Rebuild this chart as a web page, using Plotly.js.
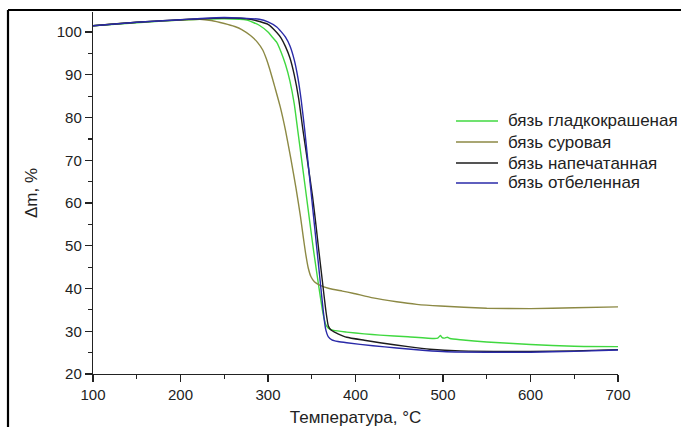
<!DOCTYPE html>
<html>
<head>
<meta charset="utf-8">
<script src="https://cdn.plot.ly/plotly-3.0.1.min.js"></script>
<style>html,body{margin:0;padding:0;background:#fff;}#chart{width:681px;height:427px;}</style>
</head>
<body>
<div id="chart"></div>
<script>
// Series names
const seriesNames = ["бязь гладкокрашеная", "бязь суровая", "бязь напечатанная", "бязь отбеленная"];
const seriesColors = ["#40d840", "#8c8944", "#1c1c1c", "#2a2aa8"];

// бязь гладкокрашеная (green)
const greenT = [100,150,200,250,276,290,300,305,310,315,320,325,330,334,338,343,348,352,356,360,363,366,369,375,390,410,428,460,490,494,497,499,502,505,508,520,550,600,650,700];
const greenM = [101.5,102.2,102.8,103.1,102.8,101.6,100.0,98.8,97.6,95.3,92.4,88.6,83.2,77,70.8,63,55.2,49,43.3,37.8,34,31.6,30.7,30.2,29.8,29.4,29.1,28.7,28.3,28.4,29.0,28.5,28.4,28.6,28.3,28.0,27.5,26.9,26.5,26.4];

// бязь суровая (olive)
const oliveT = [100,150,200,222,235,250,262,270,280,288,294,298,302,308,314,320,326,332,337,340,343,346,349,353,359,370,385,397,420,447,470,497,550,600,650,700];
const oliveM = [101.5,102.3,102.8,103.0,102.7,102.0,101.3,100.6,99.2,97.6,95.8,93.8,91.3,87,82.5,77,70.5,63.5,57,52.5,48.2,44.8,42.8,41.6,40.8,40.0,39.4,38.9,37.8,36.9,36.3,35.9,35.4,35.3,35.5,35.7];

// бязь напечатанная (black)
const blackT = [100,150,200,250,280,300,310,315,320,325,330,335,340,345,351,355,358,362,366,369,372,376,380,390,410,428,460,485,520,600,650,700];
const blackM = [101.5,102.3,102.9,103.3,103.0,101.8,99.9,98.6,96.6,94,90,84.5,77,70,61.4,54.5,49,42,35,31.2,30.3,29.8,29.4,28.6,27.9,27.3,26.4,25.8,25.4,25.3,25.4,25.7];

// бязь отбеленная (blue)
const blueT = [100,150,200,250,290,300,310,315,320,325,330,334,338,342,346,350,354,356,358,360,362,364,366,369,373,380,390,420,447,480,504,550,600,650,700];
const blueM = [101.5,102.3,102.9,103.4,103.0,102.4,101.2,100.1,98.8,96.8,93.5,89.5,84,77,69,61,53,49,45,41,37,33.2,30.4,28.7,28.0,27.6,27.3,26.6,26.1,25.5,25.2,25.1,25.1,25.3,25.6];

const xTicks = [100,200,300,400,500,600,700];
const yTicks = [20,30,40,50,60,70,80,90,100];

const xs = [greenT, oliveT, blackT, blueT];
const ys = [greenM, oliveM, blackM, blueM];

const traces = xs.map((x, i) => ({
  x: x, y: ys[i], type: "scatter", mode: "lines", name: seriesNames[i],
  line: {color: seriesColors[i], width: 1.4, shape: "spline", smoothing: 0.5},
  showlegend: false, hoverinfo: "skip"
}));

const font = {family: "Liberation Sans, Arial, sans-serif", size: 15, color: "#222"};

// manual legend (pixel rows converted to paper units)
const legY = [121, 142, 163, 183].map(p => (374 - p) / 362);
const shapes = [];
const annotations = [];
seriesNames.forEach((n, i) => {
  shapes.push({type: "line", xref: "paper", yref: "paper", x0: (456-93)/525, x1: (498-93)/525, y0: legY[i], y1: legY[i], line: {color: seriesColors[i], width: 1.4}});
  annotations.push({xref: "paper", yref: "paper", x: (506-93)/525, y: legY[i], xanchor: "left", yanchor: "middle", text: n, showarrow: false, font: {family: font.family, size: 17, color: "#222"}});
});
// document frame
shapes.push({type: "line", xref: "paper", yref: "paper", x0: (8-93)/525, x1: (8-93)/525, y0: (374-10)/362, y1: (374-430)/362, line: {color: "#000", width: 2.2}});
shapes.push({type: "line", xref: "paper", yref: "paper", x0: (8-93)/525, x1: (690-93)/525, y0: (374-10)/362, y1: (374-10)/362, line: {color: "#000", width: 2.2}});

const layout = {
  width: 681, height: 427,
  margin: {l: 93, r: 63, t: 12, b: 53},
  paper_bgcolor: "#fff", plot_bgcolor: "#fff",
  font: font,
  showlegend: false,
  xaxis: {
    range: [100, 700], tickvals: xTicks, ticks: "outside", ticklen: 7, tickwidth: 1.2, tickcolor: "#222",
    minor: {dtick: 50, ticks: "outside", ticklen: 4, tickwidth: 1.2, tickcolor: "#222"},
    showline: true, linecolor: "#222", linewidth: 1.2, showgrid: false, zeroline: false,
    title: {text: "Температура, °C", font: {size: 17, color: "#222"}, standoff: 19}
  },
  yaxis: {
    range: [20, 104.7], tickvals: yTicks, ticks: "outside", ticklen: 7, tickwidth: 1.2, tickcolor: "#222",
    minor: {dtick: 5, ticks: "outside", ticklen: 4, tickwidth: 1.2, tickcolor: "#222"},
    showline: true, linecolor: "#222", linewidth: 1.2, showgrid: false, zeroline: false,
    title: {text: "Δm, %", font: {size: 17, color: "#222"}, standoff: 14}
  },
  shapes: shapes,
  annotations: annotations
};

Plotly.newPlot("chart", traces, layout, {staticPlot: true, displayModeBar: false});
</script>
</body>
</html>
